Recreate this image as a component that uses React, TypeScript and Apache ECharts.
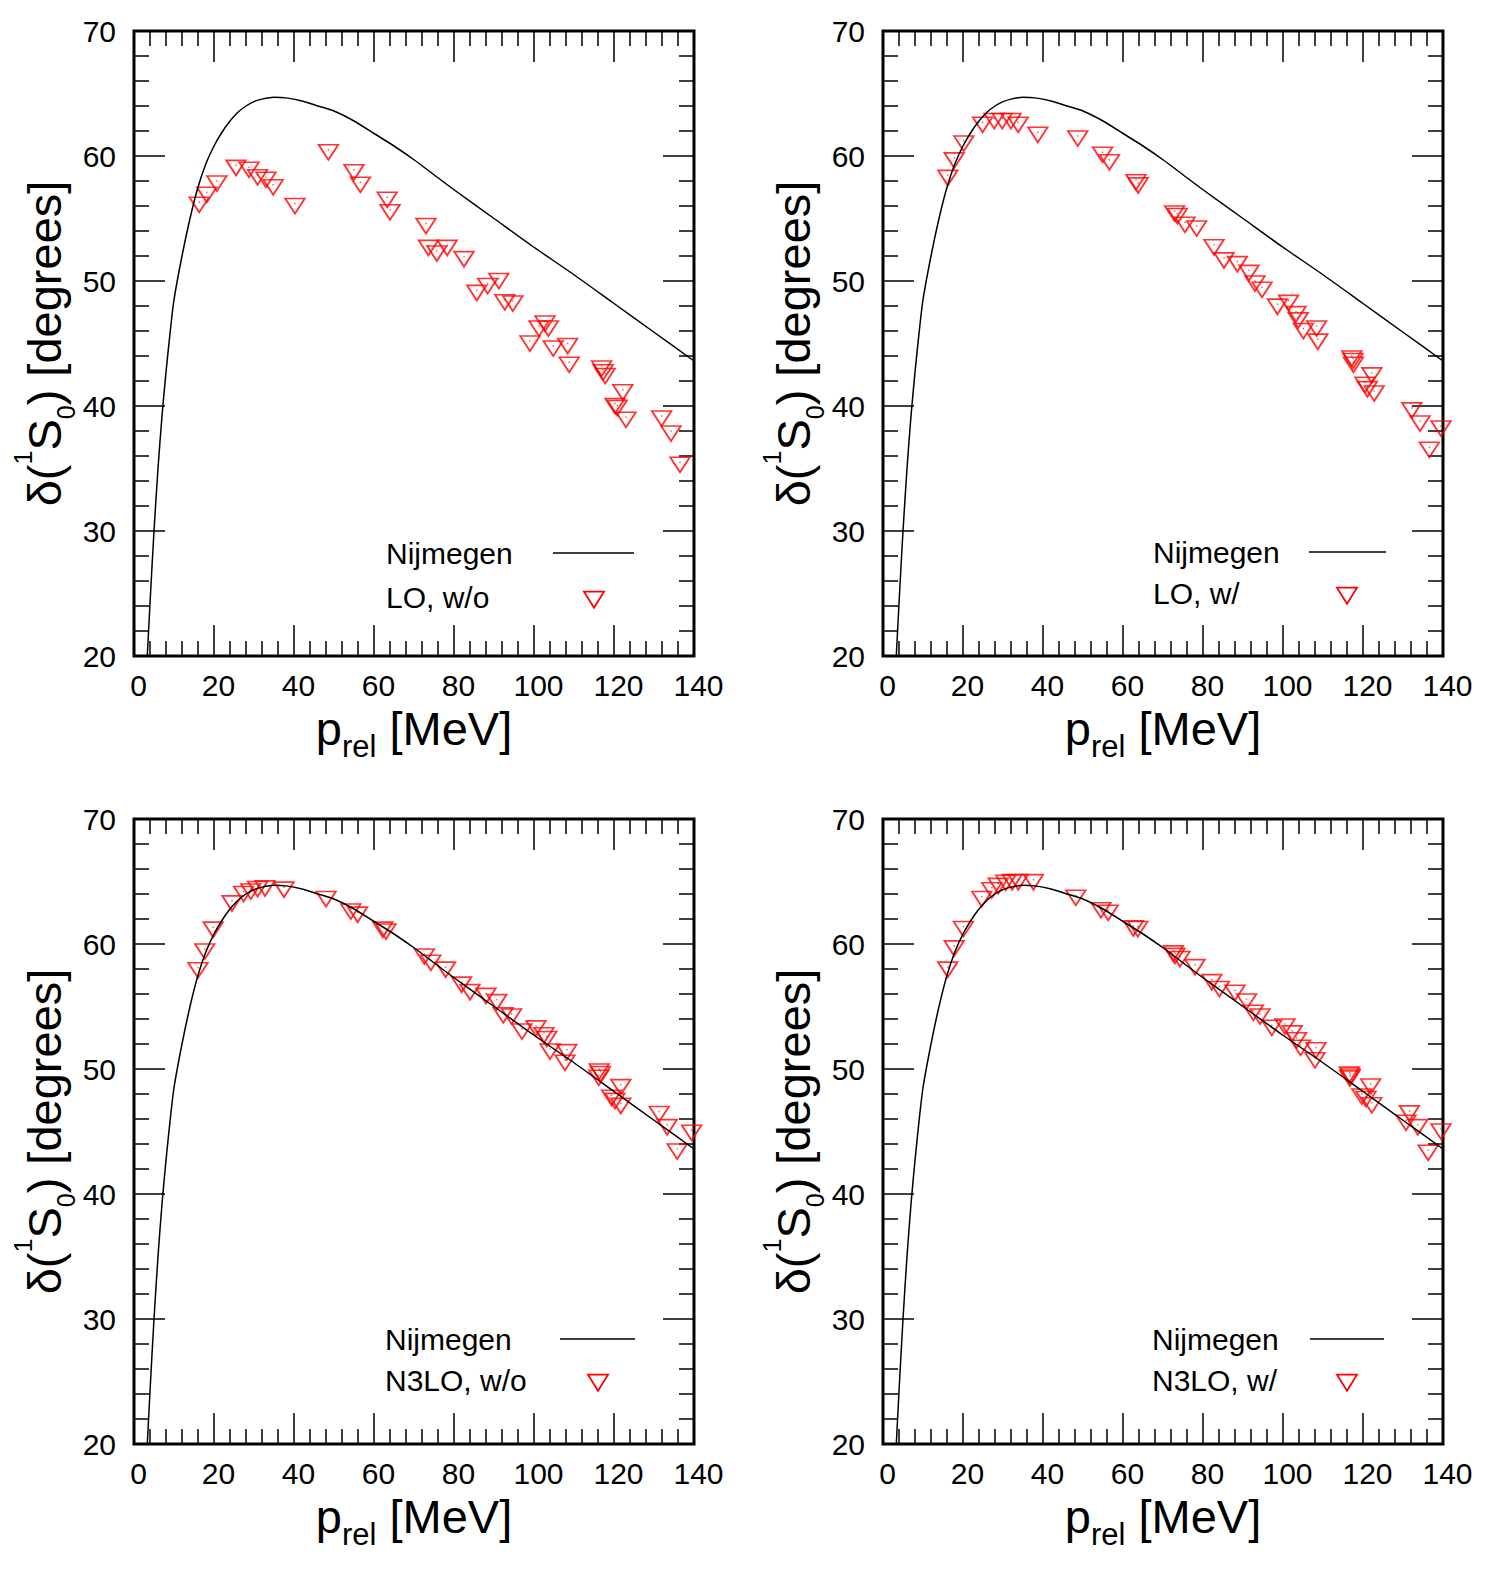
import React, { useEffect, useRef } from 'react';
import * as echarts from 'echarts';

// Axis ranges and tick spacing (MeV, degrees)
const xTicks = [0, 20, 40, 60, 80, 100, 120, 140];
const yTicks = [20, 30, 40, 50, 60, 70];

// Nijmegen 1S0 phase shift curve
const nijP = [2, 3, 4, 5, 6, 7, 8, 9, 10, 12, 14, 16, 18, 20, 22, 24, 26, 28, 30, 32, 35, 38, 42, 46, 50, 55, 60, 65, 70, 75, 80, 90, 100, 110, 120, 130, 140];
const nijDelta = [12.0, 18.0, 24.2, 30.0, 35.0, 39.2, 42.7, 45.8, 48.5, 52.0, 55.0, 57.5, 59.4, 60.8, 61.9, 62.8, 63.5, 64.0, 64.35, 64.55, 64.7, 64.65, 64.4, 64.0, 63.6, 62.8, 61.8, 60.8, 59.7, 58.5, 57.3, 55.0, 52.7, 50.5, 48.2, 45.9, 43.6];

// LO, without
const loWoP = [16.3, 18.2, 20.7, 25.5, 28.75, 30.9, 33.0, 34.8, 40.25, 48.6, 55.0, 56.6, 63.3, 64.0, 73.0, 73.6, 75.7, 78.3, 82.5, 85.7, 88.4, 91.2, 92.7, 94.7, 99.0, 101.25, 102.75, 103.6, 104.8, 108.4, 108.8, 116.9, 117.3, 117.8, 122.2, 120.25, 120.8, 123.0, 131.9, 134.25, 136.5];
const loWoDelta = [56.3, 57.1, 58.0, 59.25, 59.1, 58.5, 58.3, 57.7, 56.2, 60.5, 58.9, 57.9, 56.7, 55.7, 54.6, 52.85, 52.4, 52.85, 51.95, 49.25, 49.8, 50.2, 48.5, 48.4, 45.2, 46.4, 46.8, 46.4, 44.8, 45.0, 43.5, 43.2, 42.9, 42.6, 41.3, 40.2, 40.05, 39.1, 39.2, 38.0, 35.5];

// LO, with
const loWP = [16.2, 17.8, 20.2, 24.9, 27.8, 29.8, 32.0, 33.8, 38.7, 48.7, 54.9, 56.6, 63.25, 63.8, 72.9, 73.6, 75.5, 78.4, 82.75, 85.25, 88.6, 91.5, 93.0, 94.75, 98.6, 101.4, 103.25, 103.8, 105.1, 108.4, 108.7, 117.2, 117.5, 117.6, 122.2, 120.5, 121.1, 122.8, 132.2, 134.25, 139.5, 136.6];
const loWDelta = [58.45, 59.85, 61.2, 62.7, 63.0, 63.0, 63.0, 62.7, 61.9, 61.6, 60.3, 59.7, 58.1, 57.85, 55.6, 55.4, 54.7, 54.4, 52.9, 51.85, 51.55, 50.85, 50.0, 49.5, 48.15, 48.45, 47.55, 47.05, 46.2, 46.4, 45.35, 44.0, 43.8, 43.5, 42.65, 41.9, 41.55, 41.2, 39.85, 38.8, 38.4, 36.7];

// N3LO, without
const n3WoP = [16.0, 17.7, 19.8, 24.5, 27.4, 29.2, 30.9, 32.75, 37.5, 48.0, 54.2, 55.9, 62.2, 63.0, 72.6, 74.2, 77.9, 81.9, 84.0, 88.0, 90.7, 92.3, 94.4, 97.0, 100.5, 102.5, 103.2, 104.0, 108.2, 107.75, 116.3, 116.6, 116.2, 121.7, 119.4, 120.25, 121.7, 131.3, 133.3, 135.8, 139.4];
const n3WoDelta = [58.1, 59.6, 61.35, 63.45, 64.2, 64.4, 64.6, 64.65, 64.55, 63.8, 62.8, 62.55, 61.35, 61.2, 59.2, 58.7, 58.15, 56.95, 56.35, 56.05, 55.55, 54.5, 54.4, 53.2, 53.45, 52.9, 52.6, 51.6, 51.55, 50.7, 50.0, 49.8, 49.5, 48.75, 47.9, 47.65, 47.25, 46.6, 45.55, 43.6, 45.1];

// N3LO, with
const n3WP = [16.2, 17.8, 20.1, 24.7, 27.2, 28.8, 30.7, 32.3, 33.8, 37.6, 48.2, 54.5, 56.3, 62.6, 63.7, 72.6, 73.0, 74.25, 78.0, 82.2, 84.1, 88.0, 90.9, 92.6, 94.25, 97.2, 100.5, 102.3, 103.4, 104.4, 108.25, 108.0, 116.6, 116.8, 116.7, 121.9, 119.7, 120.75, 122.2, 131.6, 130.75, 133.7, 136.3, 139.5];
const n3WDelta = [58.15, 59.85, 61.4, 63.8, 64.5, 64.85, 65.1, 65.15, 65.15, 65.15, 63.9, 62.9, 62.7, 61.45, 61.4, 59.45, 59.25, 59.0, 58.35, 57.15, 56.6, 56.3, 55.6, 54.7, 54.4, 53.5, 53.6, 53.05, 52.5, 51.9, 51.7, 50.9, 49.75, 49.6, 49.45, 48.8, 48.0, 47.8, 47.3, 46.65, 45.9, 45.55, 43.5, 45.2];

const FONT = '"Liberation Sans", Arial, Helvetica, sans-serif';
const RED = '#ff0000';
const TRI = 'path://M0,0L20,0L10,16Z';

const panels = [
  { label: 'LO, w/o', p: loWoP, d: loWoDelta, left: 134, top: 31, key: { tx: 386, y1: 553, y2: 597, lx1: 553, lx2: 634, sx: 594 } },
  { label: 'LO, w/', p: loWP, d: loWDelta, left: 883, top: 31, key: { tx: 1153, y1: 552, y2: 593, lx1: 1309, lx2: 1386, sx: 1347 } },
  { label: 'N3LO, w/o', p: n3WoP, d: n3WoDelta, left: 134, top: 819, key: { tx: 385, y1: 1339, y2: 1380, lx1: 560, lx2: 635, sx: 598 } },
  { label: 'N3LO, w/', p: n3WP, d: n3WDelta, left: 883, top: 819, key: { tx: 1152, y1: 1339, y2: 1380, lx1: 1310, lx2: 1384, sx: 1347 } },
];

const PW = 560;
const PH = 625;

const zip = (a: number[], b: number[]) => a.map((v, i) => [v, b[i]]);

const tickStyle = { color: '#000', width: 1.5 };

const titleRich = {
  m: { fontSize: 47, lineHeight: 68, verticalAlign: 'middle', fontFamily: FONT, color: '#000' },
  s: { fontSize: 31, lineHeight: 31, verticalAlign: 'bottom', fontFamily: FONT, color: '#000' },
  d: { fontSize: 25, lineHeight: 36, verticalAlign: 'bottom', fontFamily: FONT, color: '#000' },
  u: { fontSize: 25, lineHeight: 18, verticalAlign: 'top', fontFamily: FONT, color: '#000' },
};

function buildOption() {
  const grid: any[] = [];
  const xAxis: any[] = [];
  const yAxis: any[] = [];
  const series: any[] = [];
  const graphic: any[] = [];

  panels.forEach((pn, i) => {
    grid.push({
      left: pn.left, top: pn.top, width: PW, height: PH,
      show: true, borderColor: '#000', borderWidth: 3, backgroundColor: 'transparent',
    });
    const common = {
      type: 'value', gridIndex: i,
      min: xTicks[0], max: xTicks[xTicks.length - 1], interval: xTicks[1] - xTicks[0],
      axisLine: { show: false, onZero: false },
      axisTick: { show: true, inside: true, length: 31, lineStyle: tickStyle },
      minorTick: { show: true, splitNumber: 5, length: 15, lineStyle: tickStyle },
      splitLine: { show: false }, minorSplitLine: { show: false },
    };
    xAxis.push({
      ...common, position: 'bottom',
      axisLabel: { color: '#000', fontSize: 30, fontFamily: FONT, margin: 14, padding: [0, 0, 0, 9], showMinLabel: true, showMaxLabel: true },
      name: '{m|p}{s|rel}{m| [MeV]}', nameLocation: 'middle', nameGap: 38,
      nameTextStyle: { fontFamily: FONT, color: '#000', rich: titleRich },
    });
    xAxis.push({ ...common, position: 'top', axisLabel: { show: false } });
    const ycommon = {
      ...common,
      min: yTicks[0], max: yTicks[yTicks.length - 1], interval: yTicks[1] - yTicks[0],
    };
    yAxis.push({
      ...ycommon, position: 'left',
      axisLabel: { color: '#000', fontSize: 30, fontFamily: FONT, margin: 18, showMinLabel: true, showMaxLabel: true },
      name: '{m|δ(}{u|1}{m|S}{d|0}{m|) [degrees]}', nameLocation: 'middle', nameRotate: 90, nameGap: 55,
      nameTextStyle: { fontFamily: FONT, color: '#000', rich: titleRich },
    });
    yAxis.push({ ...ycommon, position: 'right', axisLabel: { show: false } });

    series.push({
      name: 'Nijmegen', type: 'line', xAxisIndex: 2 * i, yAxisIndex: 2 * i,
      data: zip(nijP, nijDelta), symbol: 'none', smooth: 0.25,
      lineStyle: { color: '#000', width: 1.5 }, clip: true, silent: true,
    });
    series.push({
      name: pn.label, type: 'scatter', xAxisIndex: 2 * i, yAxisIndex: 2 * i,
      data: zip(pn.p, pn.d), symbol: TRI, symbolSize: [19.5, 15], symbolOffset: [0, 2.5],
      itemStyle: { color: 'rgba(0,0,0,0)', borderColor: RED, borderWidth: 1.8 },
      clip: false, silent: true,
    });
    series.push({
      name: pn.label + ' centre', type: 'scatter', xAxisIndex: 2 * i, yAxisIndex: 2 * i,
      data: zip(pn.p, pn.d), symbol: 'circle', symbolSize: 1.5,
      itemStyle: { color: RED, opacity: 0.7 }, clip: false, silent: true,
    });

    // key: text on the left, sample on the right
    const k = pn.key;
    graphic.push({
      type: 'text', x: k.tx, y: k.y1, silent: true,
      style: { text: 'Nijmegen', fontSize: 30, fontFamily: FONT, fill: '#000', verticalAlign: 'middle', align: 'left' },
    });
    graphic.push({
      type: 'line', silent: true,
      shape: { x1: k.lx1, y1: k.y1, x2: k.lx2, y2: k.y1 },
      style: { stroke: '#000', lineWidth: 1.5 },
    });
    graphic.push({
      type: 'text', x: k.tx, y: k.y2, silent: true,
      style: { text: pn.label, fontSize: 30, fontFamily: FONT, fill: '#000', verticalAlign: 'middle', align: 'left' },
    });
    graphic.push({
      type: 'polygon', silent: true,
      shape: { points: [[k.sx - 10, k.y2 - 5.3], [k.sx + 10, k.y2 - 5.3], [k.sx, k.y2 + 10.7]] },
      style: { fill: 'none', stroke: RED, lineWidth: 1.8 },
    });
  });

  return {
    animation: false,
    backgroundColor: '#fff',
    grid, xAxis, yAxis, series, graphic,
  };
}

export default function App() {
  const ref = useRef<HTMLDivElement>(null);
  useEffect(() => {
    if (!ref.current) return;
    const chart = echarts.init(ref.current, null, { renderer: 'svg' });
    chart.setOption(buildOption() as any);
    return () => chart.dispose();
  }, []);
  return (
    <div
      ref={ref}
      style={{ position: 'absolute', left: 0, top: 0, width: 1500, height: 1575, background: '#fff' }}
    />
  );
}
